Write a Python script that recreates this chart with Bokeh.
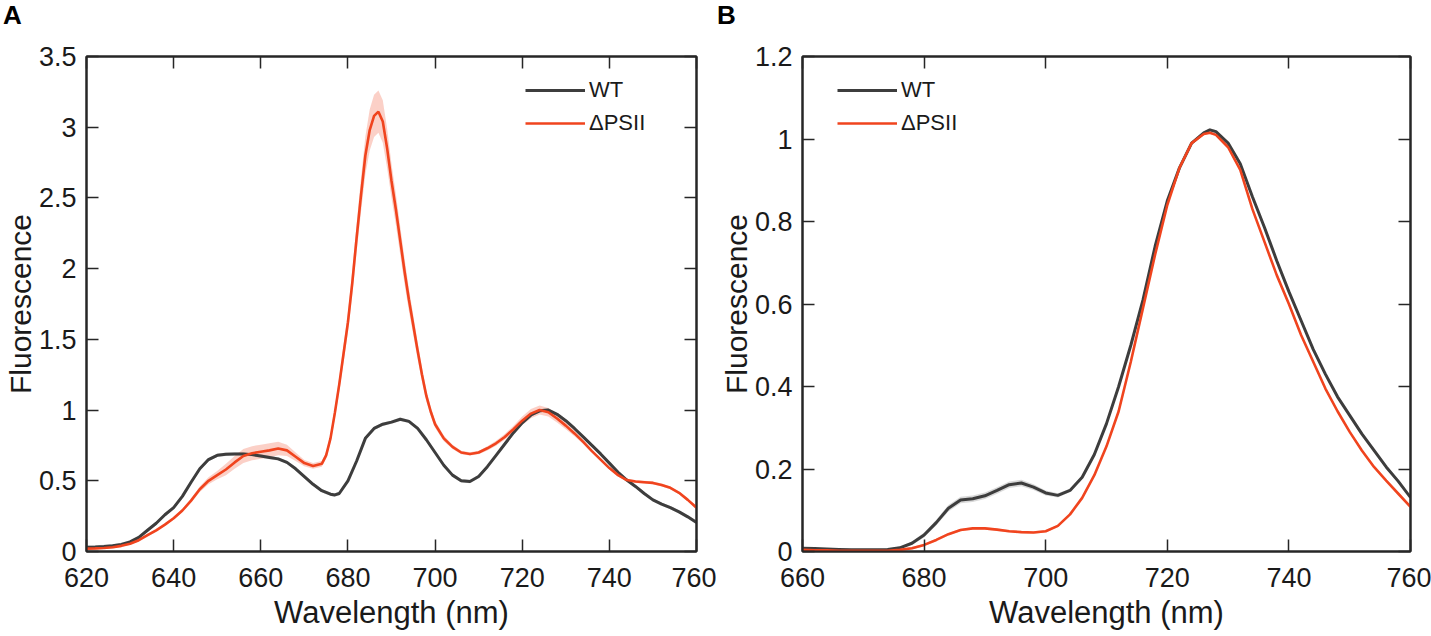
from bokeh.plotting import figure
from bokeh.models import LinearAxis, Range1d, FixedTicker, Legend, LegendItem, Div
from bokeh.layouts import row, column
from bokeh.embed import file_html
from bokeh.resources import INLINE

# ---------------- data: panel A ----------------
wt_a_wl = [620, 622, 624, 626, 628, 630, 632, 634, 636, 638, 640, 642, 644, 646, 648, 650,
           652, 654, 656, 658, 660, 662, 664, 666, 668, 670, 672, 674, 676, 677, 678, 680,
           682, 684, 686, 688, 690, 692, 694, 696, 698, 700, 702, 704, 706, 708, 710, 712,
           714, 716, 718, 720, 722, 724, 726, 728, 730, 732, 734, 736, 738, 740, 742, 744,
           746, 748, 750, 752, 754, 756, 758, 760]
wt_a_val = [0.030, 0.032, 0.035, 0.040, 0.050, 0.068, 0.10, 0.15, 0.20, 0.26, 0.31, 0.39, 0.49, 0.585, 0.65, 0.68,
            0.688, 0.690, 0.690, 0.685, 0.675, 0.665, 0.655, 0.630, 0.585, 0.530, 0.475, 0.430, 0.405, 0.400, 0.410, 0.50,
            0.64, 0.80, 0.87, 0.90, 0.915, 0.935, 0.920, 0.87, 0.79, 0.70, 0.61, 0.54, 0.50, 0.495, 0.53, 0.60,
            0.68, 0.76, 0.84, 0.91, 0.965, 0.995, 1.00, 0.97, 0.925, 0.87, 0.81, 0.75, 0.69, 0.625, 0.56, 0.505,
            0.46, 0.41, 0.365, 0.335, 0.31, 0.28, 0.245, 0.205]
wt_a_err = [0.012] * 72

ko_a_wl = [620, 622, 624, 626, 628, 630, 632, 634, 636, 638, 640, 642, 644, 646, 648, 650,
           652, 654, 656, 658, 660, 662, 664, 666, 668, 670, 672, 674, 675, 676, 677, 678,
           679, 680, 681, 682, 683, 684, 685, 686, 687, 688, 689, 690, 691, 692, 693, 694,
           695, 696, 697, 698, 699, 700, 702, 704, 706, 708, 710, 712, 714, 716, 718, 720,
           722, 724, 726, 728, 730, 732, 734, 736, 738, 740, 742, 744, 746, 748, 750, 752,
           754, 756, 758, 760]
ko_a_val = [0.020, 0.022, 0.025, 0.030, 0.040, 0.055, 0.08, 0.115, 0.15, 0.19, 0.235, 0.29, 0.36, 0.44, 0.50, 0.54,
            0.58, 0.63, 0.675, 0.695, 0.705, 0.715, 0.728, 0.715, 0.67, 0.625, 0.605, 0.62, 0.68, 0.80, 0.98, 1.18,
            1.40, 1.62, 1.90, 2.22, 2.52, 2.80, 2.98, 3.08, 3.11, 3.04, 2.85, 2.62, 2.42, 2.20, 1.98, 1.78,
            1.60, 1.42, 1.25, 1.10, 0.99, 0.90, 0.80, 0.74, 0.70, 0.69, 0.70, 0.73, 0.765, 0.81, 0.865, 0.925,
            0.975, 1.00, 0.985, 0.94, 0.89, 0.835, 0.775, 0.71, 0.65, 0.59, 0.54, 0.505, 0.495, 0.49, 0.485, 0.47,
            0.45, 0.415, 0.365, 0.31]
ko_a_err = [0.008, 0.008, 0.008, 0.008, 0.008, 0.008, 0.01, 0.01, 0.01, 0.01, 0.01, 0.012, 0.015, 0.02, 0.025, 0.03,
            0.04, 0.045, 0.05, 0.05, 0.05, 0.05, 0.048, 0.04, 0.03, 0.022, 0.02, 0.02, 0.025, 0.03, 0.04, 0.05,
            0.06, 0.07, 0.085, 0.10, 0.12, 0.135, 0.145, 0.15, 0.15, 0.15, 0.14, 0.12, 0.11, 0.10, 0.09, 0.08,
            0.07, 0.06, 0.05, 0.04, 0.03, 0.025, 0.02, 0.015, 0.012, 0.012, 0.012, 0.015, 0.018, 0.02, 0.025, 0.03,
            0.032, 0.032, 0.03, 0.028, 0.025, 0.02, 0.015, 0.012, 0.01, 0.01, 0.01, 0.01, 0.01, 0.01, 0.01, 0.01,
            0.01, 0.01, 0.01, 0.01]

# ---------------- data: panel B ----------------
wt_b_wl = [660, 662, 664, 666, 668, 670, 672, 674, 676, 678, 680, 682, 684, 686, 688, 690,
           692, 694, 696, 698, 700, 702, 704, 706, 708, 710, 712, 714, 716, 718, 720, 722,
           724, 726, 727, 728, 730, 732, 734, 736, 738, 740, 742, 744, 746, 748, 750, 752,
           754, 756, 758, 760]
wt_b_val = [0.008, 0.007, 0.006, 0.005, 0.004, 0.004, 0.004, 0.005, 0.009, 0.020, 0.040, 0.070, 0.105, 0.125, 0.128, 0.135,
            0.148, 0.162, 0.166, 0.156, 0.142, 0.136, 0.148, 0.180, 0.235, 0.31, 0.40, 0.50, 0.61, 0.74, 0.85, 0.93,
            0.99, 1.015, 1.022, 1.018, 0.99, 0.94, 0.86, 0.785, 0.705, 0.63, 0.56, 0.49, 0.43, 0.375, 0.33, 0.285,
            0.245, 0.205, 0.17, 0.131]
wt_b_err = [0.002] * 9 + [0.004, 0.006, 0.007, 0.008, 0.008, 0.008, 0.008,
            0.008, 0.008, 0.008, 0.007, 0.006, 0.005] + [0.004] * 30

ko_b_wl = [660, 662, 664, 666, 668, 670, 672, 674, 676, 678, 680, 682, 684, 686, 688, 690,
           692, 694, 696, 698, 700, 702, 704, 706, 708, 710, 712, 714, 716, 718, 720, 722,
           724, 726, 727, 728, 730, 732, 734, 736, 738, 740, 742, 744, 746, 748, 750, 752,
           754, 756, 758, 760]
ko_b_val = [0.004, 0.003, 0.003, 0.002, 0.002, 0.002, 0.002, 0.002, 0.004, 0.008, 0.016, 0.028, 0.042, 0.052, 0.056, 0.056,
            0.053, 0.049, 0.047, 0.046, 0.049, 0.062, 0.09, 0.13, 0.185, 0.255, 0.34, 0.46, 0.59, 0.72, 0.84, 0.93,
            0.99, 1.012, 1.015, 1.01, 0.98, 0.925, 0.83, 0.75, 0.67, 0.60, 0.525, 0.46, 0.395, 0.34, 0.29, 0.245,
            0.205, 0.172, 0.14, 0.108]
ko_b_err = [0.003] * 52

series_names = ["WT", "\u0394PSII"]
panel_letters = ["A", "B"]
x_title = "Wavelength (nm)"
y_title = "Fluorescence"

# ticks
x_ticks_a = [620, 640, 660, 680, 700, 720, 740, 760]
x_labels_a = ["620", "640", "660", "680", "700", "720", "740", "760"]
y_ticks_a = [0, 0.5, 1, 1.5, 2, 2.5, 3, 3.5]
y_labels_a = ["0", "0.5", "1", "1.5", "2", "2.5", "3", "3.5"]
x_ticks_b = [660, 680, 700, 720, 740, 760]
x_labels_b = ["660", "680", "700", "720", "740", "760"]
y_ticks_b = [0, 0.2, 0.4, 0.6, 0.8, 1.0, 1.2]
y_labels_b = ["0", "0.2", "0.4", "0.6", "0.8", "1", "1.2"]

# ---------------- styling ----------------
FONT = "Liberation Sans"
TXT = "#1a1a1a"
AX = "#262626"
WT_COLOR = "#3d3d3d"
KO_COLOR = "#F0441E"
HEADER_H = 30
FIG_H = 636 - HEADER_H


def style_axis(ax, ticks, labels, show_labels, standoff=11, axis_label=None, lab_size="30px", lab_standoff=2):
    ax.ticker = FixedTicker(ticks=ticks)
    ax.major_label_overrides = {t: l for t, l in zip(ticks, labels)}
    ax.minor_tick_line_color = None
    ax.major_tick_in = 12
    ax.major_tick_out = 0
    ax.major_tick_line_color = AX
    ax.major_tick_line_width = 1.5
    ax.axis_line_color = AX
    ax.axis_line_width = 2
    if show_labels:
        ax.major_label_text_font = FONT
        ax.major_label_text_font_size = "27px"
        ax.major_label_text_color = TXT
        ax.major_label_standoff = standoff
    else:
        ax.major_label_text_font_size = "0px"
        ax.major_label_text_color = None
        ax.major_label_standoff = 0
    if axis_label:
        ax.axis_label = axis_label
        ax.axis_label_text_font = FONT
        ax.axis_label_text_font_size = lab_size
        ax.axis_label_text_font_style = "normal"
        ax.axis_label_text_color = TXT
        ax.axis_label_standoff = lab_standoff


def make_panel(width, b_left, b_right, xr, yr, xt, xl, yt, yl,
               wt_wl, wt_v, wt_e, ko_wl, ko_v, ko_e, leg_xy, letter, letter_pad):
    header = Div(text=('<div style="font-family:\'Liberation Sans\',Arial,sans-serif;font-size:26px;'
                       'font-weight:bold;color:black;line-height:30px;margin:0;padding:0 0 0 '
                       + str(letter_pad) + 'px;">' + letter + '</div>'),
                 width=width, height=HEADER_H, margin=0)
    p = figure(width=width, height=FIG_H, x_range=Range1d(*xr), y_range=Range1d(*yr),
               output_backend="svg", toolbar_location=None, title=None,
               min_border_left=b_left, min_border_right=b_right,
               min_border_top=56 - HEADER_H, min_border_bottom=85)
    p.grid.visible = False
    p.outline_line_color = AX
    p.outline_line_width = 2
    p.background_fill_color = "white"
    p.border_fill_color = "white"

    style_axis(p.xaxis[0], xt, xl, True, 16, x_title, "31px", 5)
    style_axis(p.yaxis[0], yt, yl, True, 10, y_title, "30px", -1)
    top = LinearAxis()
    style_axis(top, xt, xl, False)
    right = LinearAxis()
    style_axis(right, yt, yl, False)
    p.add_layout(top, "above")
    p.add_layout(right, "right")

    # bands
    p.varea(x=wt_wl, y1=[v - e for v, e in zip(wt_v, wt_e)], y2=[v + e for v, e in zip(wt_v, wt_e)],
            fill_color="#808080", fill_alpha=0.3)
    p.varea(x=ko_wl, y1=[v - e for v, e in zip(ko_v, ko_e)], y2=[v + e for v, e in zip(ko_v, ko_e)],
            fill_color=KO_COLOR, fill_alpha=0.25)
    r_wt = p.line(wt_wl, wt_v, line_color=WT_COLOR, line_width=3)
    r_ko = p.line(ko_wl, ko_v, line_color=KO_COLOR, line_width=2.6)

    legend = Legend(items=[LegendItem(label=series_names[0], renderers=[r_wt]),
                           LegendItem(label=series_names[1], renderers=[r_ko])],
                    location=leg_xy)
    legend.border_line_color = None
    legend.background_fill_alpha = 0
    legend.padding = 0
    legend.margin = 0
    legend.spacing = 7
    legend.glyph_width = 60
    legend.glyph_height = 22
    legend.label_height = 22
    legend.label_standoff = 4
    legend.label_text_font = FONT
    legend.label_text_font_size = "22px"
    legend.label_text_color = TXT
    p.add_layout(legend, "center")
    return column(header, p, spacing=0)


pa = make_panel(716, 86, 20, (620, 760), (0, 3.5), x_ticks_a, x_labels_a, y_ticks_a, y_labels_a,
                wt_a_wl, wt_a_val, wt_a_err, ko_a_wl, ko_a_val, ko_a_err, (439, 415), panel_letters[0], 3)
pb = make_panel(715, 85, 21, (660, 760), (0, 1.2), x_ticks_b, x_labels_b, y_ticks_b, y_labels_b,
                wt_b_wl, wt_b_val, wt_b_err, ko_b_wl, ko_b_val, ko_b_err, (35, 415), panel_letters[1], 1)

layout = row(pa, pb, spacing=0)
open("out.html", "w").write(file_html(layout, INLINE))
